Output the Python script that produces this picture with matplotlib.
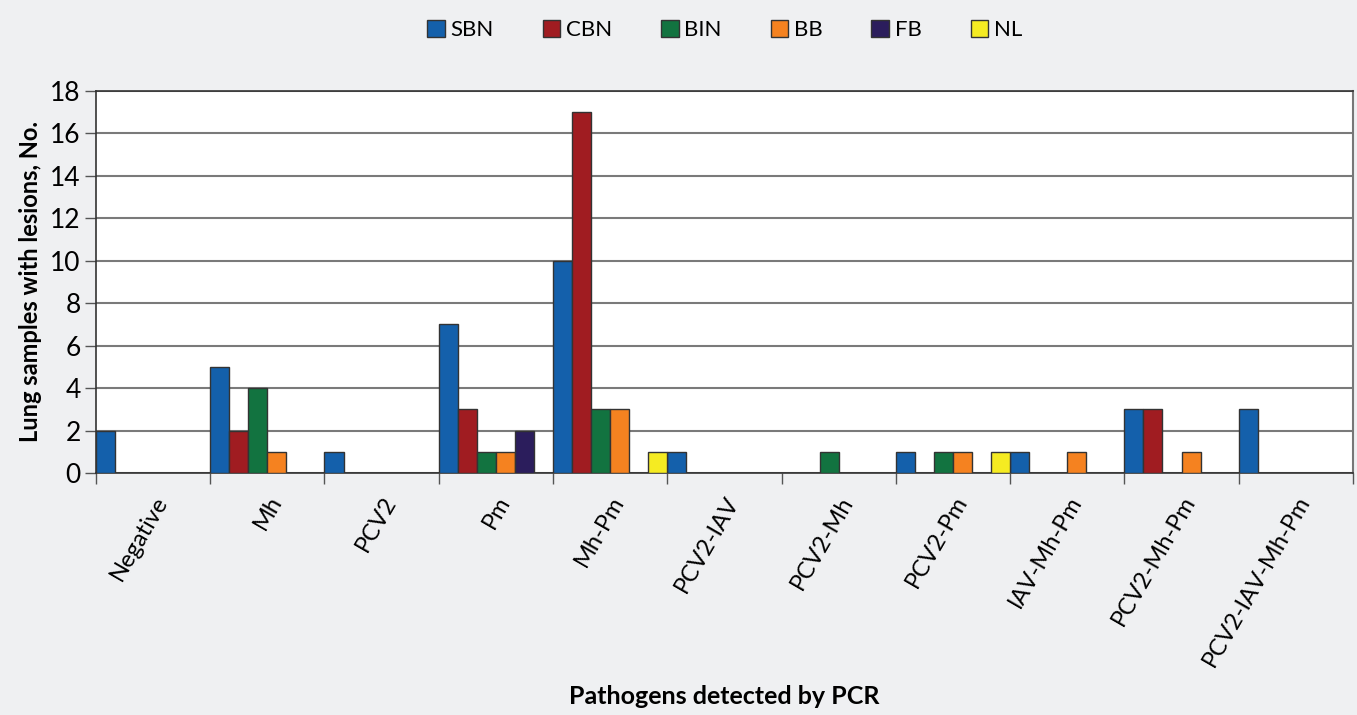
import numpy as np
import matplotlib.pyplot as plt

categories = ['Negative', 'Mh', 'PCV2', 'Pm', 'Mh-Pm', 'PCV2-IAV', 'PCV2-Mh',
              'PCV2-Pm', 'IAV-Mh-Pm', 'PCV2-Mh-Pm', 'PCV2-IAV-Mh-Pm']
series = ['SBN', 'CBN', 'BIN', 'BB', 'FB', 'NL']
sbn = [2, 5, 1, 7, 10, 1, 0, 1, 1, 3, 3]
cbn = [0, 2, 0, 3, 17, 0, 0, 0, 0, 3, 0]
bin_ = [0, 4, 0, 1, 3, 0, 1, 1, 0, 0, 0]
bb = [0, 1, 0, 1, 3, 0, 0, 1, 1, 1, 0]
fb = [0, 0, 0, 2, 0, 0, 0, 0, 0, 0, 0]
nl = [0, 0, 0, 0, 1, 0, 0, 1, 0, 0, 0]
colors = ['#1460ab', '#a01c21', '#127340', '#f58220', '#2b1d5c', '#f5eb22']

plt.rcParams['font.family'] = ['Lato', 'DejaVu Sans']
bg = '#eff0f2'

fig = plt.figure(figsize=(13.57, 7.15), dpi=100, facecolor=bg)
ax = fig.add_axes([0.0707, 0.3385, 0.9263, 0.5342])
ax.set_facecolor('white')

x = np.arange(len(categories))
w = 1 / 6
for i, (name, vals) in enumerate(zip(series, [sbn, cbn, bin_, bb, fb, nl])):
    ax.bar(x + i * w, vals, width=w, align='edge', color=colors[i],
           edgecolor='#333333', linewidth=1, label=name, zorder=3)

ax.set_xlim(0, len(categories))
ax.set_ylim(0, 18)
ax.set_yticks(range(0, 19, 2))
ax.yaxis.grid(True, color='#7a7a7a', linewidth=1.5, zorder=0)

ax.set_xticks(x + 0.5)
ax.set_xticklabels(categories, rotation=60, ha='right', rotation_mode='anchor')
ax.set_xticks(np.arange(len(categories) + 1), minor=True)
ax.tick_params(axis='x', which='major', length=0, labelsize=17, pad=14)
ax.tick_params(axis='x', which='minor', length=8, width=1, color='#555555', direction='out')
ax.tick_params(axis='y', length=8, width=1, color='#555555', labelsize=19, pad=3)

for s in ['left', 'bottom', 'top']:
    ax.spines[s].set_color('#333333')
    ax.spines[s].set_linewidth(1.2)
ax.spines['right'].set_color('#777777')
ax.spines['right'].set_linewidth(1.5)

ax.set_ylabel('Lung samples with lesions, No.', fontsize=17, fontweight='bold', labelpad=6)
fig.text(0.534, 0.026, 'Pathogens detected by PCR', ha='center', va='center',
         fontsize=18, fontweight='bold')

fig.legend(loc='upper center', bbox_to_anchor=(0.534, 1.0), ncol=6, frameon=False,
           fontsize=16, handlelength=0.8, handleheight=0.8, handletextpad=0.25,
           columnspacing=2.2)

fig.savefig('out.png', dpi=100, facecolor=bg)
